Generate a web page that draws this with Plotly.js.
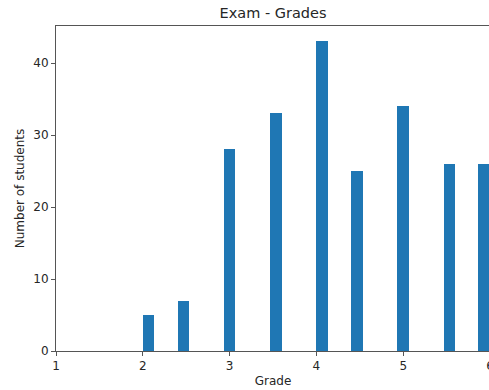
<!DOCTYPE html>
<html>
<head>
<meta charset="utf-8">
<script src="https://cdn.plot.ly/plotly-3.0.1.min.js"></script>
<style>
  html, body { margin: 0; padding: 0; overflow: hidden; background: #fff; width: 489px; height: 390px; }
  #chart { width: 500px; height: 390px; }
</style>
</head>
<body>
<div id="chart"></div>
<script>
// Data
const grades = [2, 2.5, 3, 3.5, 4, 4.5, 5, 5.5, 6];
const students = [5, 7, 28, 33, 43, 25, 34, 26, 26];
const xTicks = [1, 2, 3, 4, 5, 6];
const yTicks = [0, 10, 20, 30, 40];
const nBins = 30;

// histogram-style binning (like matplotlib hist with 30 bins)
const lo = Math.min(...grades), hi = Math.max(...grades);
const bw = (hi - lo) / nBins;
const offsets = grades.map(g => {
  const idx = Math.min(nBins - 1, Math.floor((g - lo) / bw + 1e-9));
  return (lo + idx * bw) - g;
});

const textColor = '#262626';
const lineColor = '#555555';
const font = {family: 'DejaVu Sans', size: 12, color: textColor};

const trace = {
  type: 'bar',
  x: grades,
  y: students,
  width: grades.map(() => bw),
  offset: offsets,
  marker: {color: '#1f77b4', line: {width: 0}},
  hoverinfo: 'x+y'
};

const layout = {
  width: 500,
  height: 390,
  margin: {l: 56, r: 10, t: 26, b: 39, pad: 0},
  paper_bgcolor: '#ffffff',
  plot_bgcolor: '#ffffff',
  font: font,
  showlegend: false,
  title: {
    text: 'Exam - Grades',
    font: {family: 'DejaVu Sans', size: 14.5, color: textColor},
    x: 0.5, xref: 'paper', xanchor: 'center',
    y: 1, yref: 'paper', yanchor: 'bottom', pad: {b: 8}
  },
  xaxis: {
    range: [1, 6],
    tickvals: xTicks,
    ticktext: xTicks.map(String),
    ticks: 'outside', ticklen: 4, tickwidth: 1, tickcolor: lineColor,
    showline: true, linecolor: lineColor, linewidth: 1, mirror: true,
    showgrid: false, zeroline: false,
    tickfont: font,
    title: {text: 'Grade', font: font, standoff: 4}
  },
  yaxis: {
    range: [0, 45.15],
    tickvals: yTicks,
    ticktext: yTicks.map(String),
    ticks: 'outside', ticklen: 4, tickwidth: 1, tickcolor: lineColor,
    showline: true, linecolor: lineColor, linewidth: 1, mirror: true,
    showgrid: false, zeroline: false,
    tickfont: font,
    title: {text: 'Number of students', font: font, standoff: 6}
  },
  bargap: 0
};

Plotly.newPlot('chart', [trace], layout, {displayModeBar: false, staticPlot: true});
</script>
</body>
</html>
